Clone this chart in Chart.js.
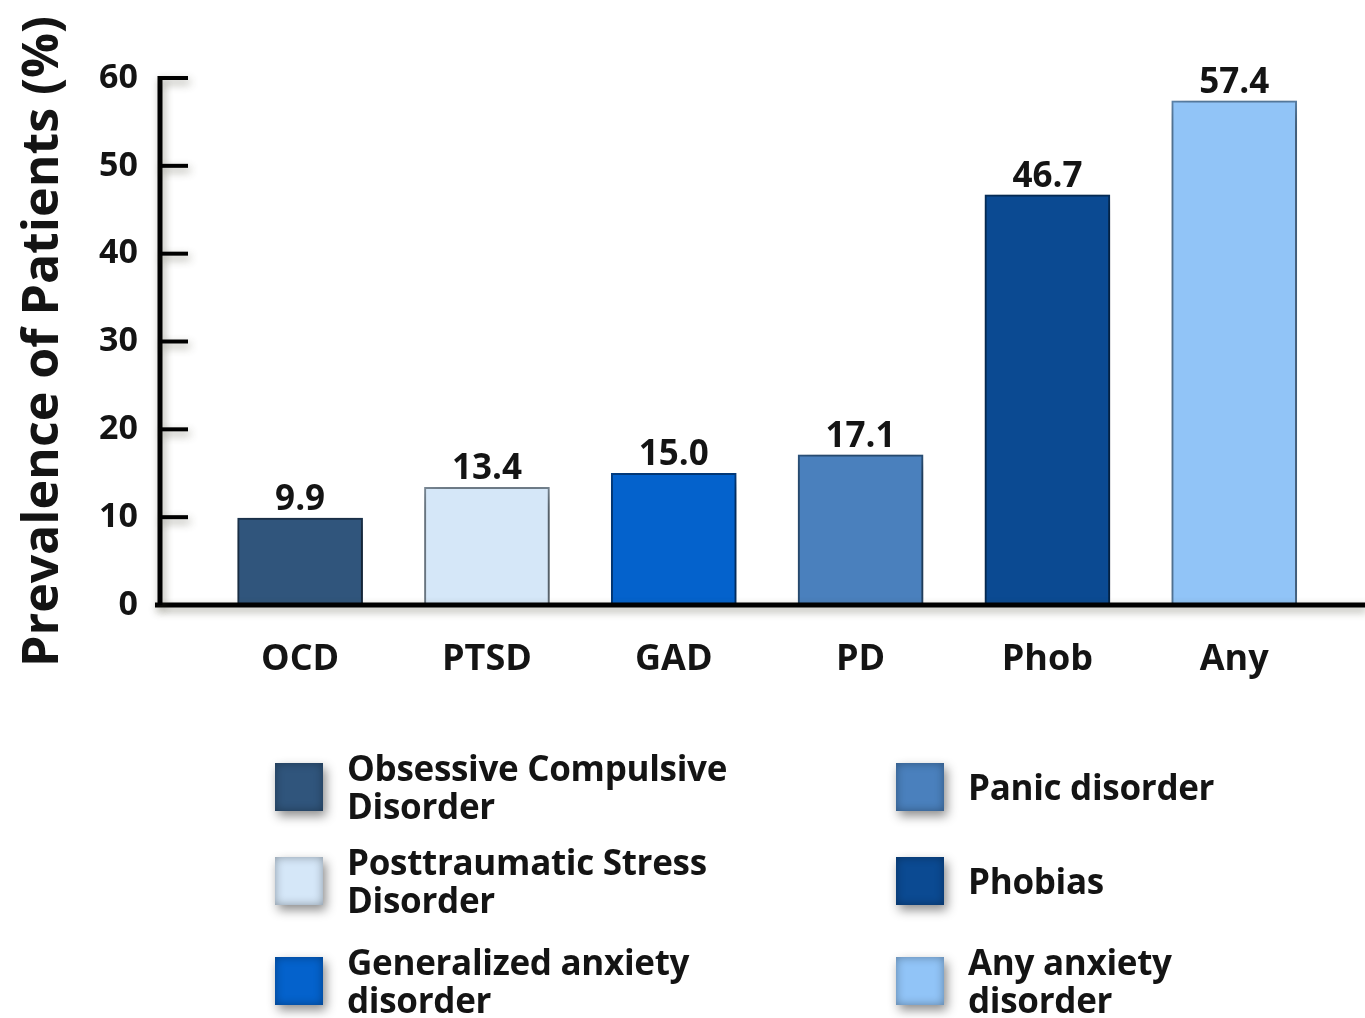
<!DOCTYPE html>
<html>
<head>
<meta charset="utf-8">
<script src="https://cdn.jsdelivr.net/npm/chart.js@4.4.1/dist/chart.umd.min.js"></script>
<style>
  html, body { margin: 0; padding: 0; background: #ffffff; }
  body { width: 1365px; height: 1018px; position: relative; overflow: hidden; font-family: "Open Sans", sans-serif; }
  #wrap { position: absolute; left: 0; top: 0; width: 1365px; height: 700px; }
  #legend { position: absolute; left: 0; top: 0; width: 1365px; height: 1018px; pointer-events: none; }
  .item { position: absolute; display: flex; align-items: center; }
  .swatch { width: 48px; height: 48px; flex: none; box-shadow: 3px 5px 10px rgba(0,0,0,0.45), inset 0 0 10px rgba(0,0,0,0.35); }
  .txt { margin-left: 24px; font-weight: 700; font-size: 35px; line-height: 38px; color: #141414; letter-spacing: -0.3px; }
</style>
</head>
<body>
<div id="wrap"><canvas id="chart" width="1365" height="700"></canvas></div>
<div id="legend"></div>
<script>
// Prevalence of anxiety disorders among patients (%)
const categories = ['OCD', 'PTSD', 'GAD', 'PD', 'Phob', 'Any'];
const prevalence = [9.9, 13.4, 15.0, 17.1, 46.7, 57.4];
const legendNames = [
  ['Obsessive Compulsive', 'Disorder'],
  ['Posttraumatic Stress', 'Disorder'],
  ['Generalized anxiety', 'disorder'],
  ['Panic disorder'],
  ['Phobias'],
  ['Any anxiety', 'disorder']
];
const barColors = ['#30557c', '#d5e7f8', '#0462cc', '#4a80bd', '#0b4a92', '#91c4f7'];
const barEdges = ['#1d3550', '#7d8c99', '#033f86', '#2d557f', '#06305e', '#5f87ae'];
const yTicks = [0, 10, 20, 30, 40, 50, 60];

const FONT = '"Open Sans", sans-serif';

// soft drop shadow under the bars
const barShadow = {
  id: 'barShadow',
  beforeDatasetsDraw(chart) {
    const ctx = chart.ctx;
    ctx.save();
    ctx.shadowColor = 'rgba(0,0,0,0.5)';
    ctx.shadowBlur = 20;
    ctx.shadowOffsetX = 4;
    ctx.shadowOffsetY = 6;
  },
  afterDatasetsDraw(chart) {
    chart.ctx.restore();
  }
};

// axis lines with inward tick marks, plus value labels above the bars
const axesAndLabels = {
  id: 'axesAndLabels',
  afterDatasetsDraw(chart) {
    const ctx = chart.ctx;
    const area = chart.chartArea;
    const y = chart.scales.y;
    const y0 = y.getPixelForValue(0);
    ctx.save();
    ctx.shadowColor = 'rgba(60,60,40,0.45)';
    ctx.shadowBlur = 8;
    ctx.shadowOffsetX = 2;
    ctx.shadowOffsetY = 4;
    ctx.strokeStyle = '#000';
    ctx.lineCap = 'butt';
    // x axis
    ctx.lineWidth = 5;
    ctx.beginPath();
    ctx.moveTo(area.left - 5, y0);
    ctx.lineTo(area.right, y0);
    ctx.stroke();
    // y axis
    ctx.beginPath();
    ctx.moveTo(area.left, y.getPixelForValue(60) - 2);
    ctx.lineTo(area.left, y0);
    ctx.stroke();
    // tick marks pointing into the plot
    ctx.lineWidth = 4;
    yTicks.forEach(v => {
      if (v === 0) return;
      const py = y.getPixelForValue(v);
      ctx.beginPath();
      ctx.moveTo(area.left, py);
      ctx.lineTo(area.left + 28, py);
      ctx.stroke();
    });
    ctx.restore();

    // value labels
    ctx.save();
    ctx.fillStyle = '#141414';
    ctx.font = '700 35px ' + FONT;
    ctx.textAlign = 'center';
    ctx.textBaseline = 'alphabetic';
    chart.getDatasetMeta(0).data.forEach((bar, i) => {
      ctx.fillText(prevalence[i].toFixed(1), bar.x, bar.y - 8);
    });
    ctx.restore();
  }
};

new Chart(document.getElementById('chart'), {
  type: 'bar',
  data: {
    datasets: [{
      data: prevalence.map((v, i) => ({ x: i, y: v })),
      backgroundColor: barColors,
      borderColor: barEdges,
      borderWidth: 2,
      borderSkipped: false,
      barThickness: 125
    }]
  },
  options: {
    responsive: false,
    animation: false,
    devicePixelRatio: 1,
    layout: { padding: { top: 78, right: 0, left: 0, bottom: 0 } },
    plugins: { legend: { display: false }, tooltip: { enabled: false } },
    scales: {
      x: {
        type: 'linear',
        offset: false,
        min: -0.75,
        max: 5.7,
        grid: { display: false, drawTicks: false },
        border: { display: false },
        afterBuildTicks(scale) { scale.ticks = categories.map((c, i) => ({ value: i })); },
        afterFit(scale) { scale.height = 95; },
        ticks: {
          padding: 33,
          autoSkip: false,
          maxRotation: 0,
          color: '#141414',
          font: { family: FONT, size: 36, weight: '700' },
          callback: (v) => categories[v]
        }
      },
      y: {
        min: 0,
        max: 60,
        grid: { display: false, drawTicks: false },
        border: { display: false },
        afterBuildTicks(scale) { scale.ticks = yTicks.map(v => ({ value: v })); },
        afterFit(scale) { scale.width = 160; },
        ticks: {
          padding: 22,
          color: '#141414',
          font: { family: FONT, size: 34, weight: '700' }
        },
        title: {
          display: true,
          text: 'Prevalence of Patients (%)',
          color: '#141414',
          padding: { top: 14, bottom: 0 },
          font: { family: FONT, size: 50, weight: '700', lineHeight: 1.2 }
        }
      }
    }
  },
  plugins: [barShadow, axesAndLabels]
});

// legend in two columns, built from the series names and colours
const legend = document.getElementById('legend');
const legendPos = [
  [275, 763], [275, 857], [275, 957],
  [896, 763], [896, 857], [896, 957]
];
legendNames.forEach((lines, i) => {
  const item = document.createElement('div');
  item.className = 'item';
  item.style.left = legendPos[i][0] + 'px';
  item.style.top = (legendPos[i][1] + 24) + 'px';
  item.style.transform = 'translateY(-50%)';
  const sw = document.createElement('div');
  sw.className = 'swatch';
  sw.style.background = barColors[i];
  const tx = document.createElement('div');
  tx.className = 'txt';
  tx.innerHTML = lines.join('<br>');
  item.appendChild(sw);
  item.appendChild(tx);
  legend.appendChild(item);
});
</script>
</body>
</html>
